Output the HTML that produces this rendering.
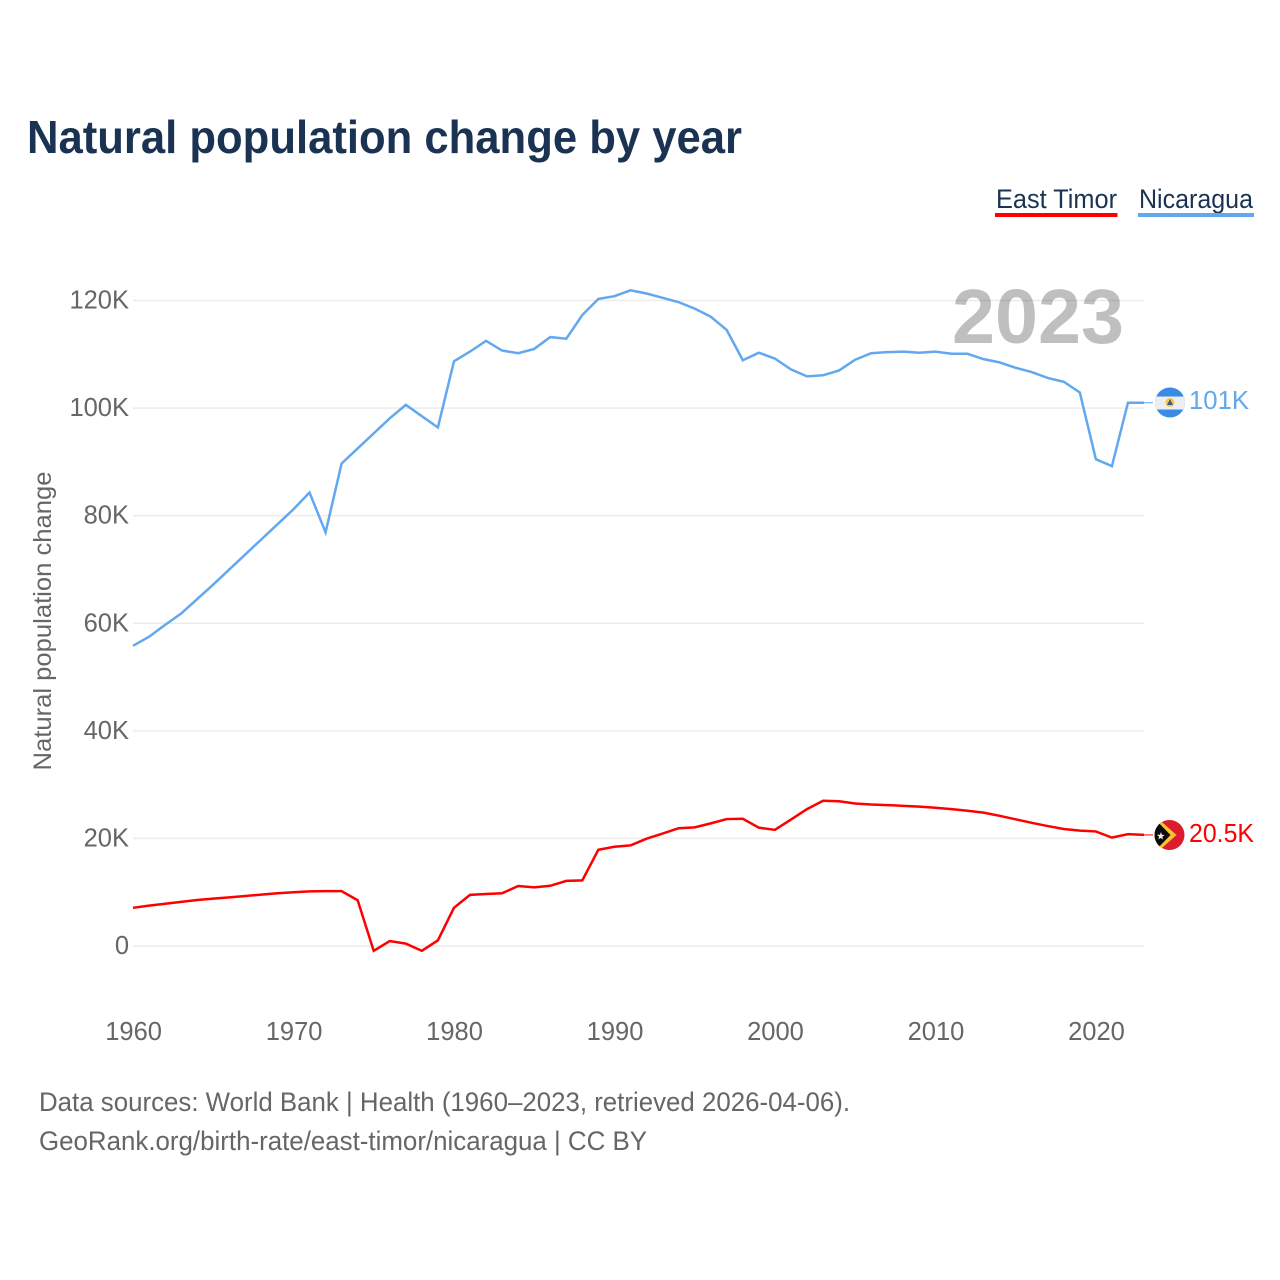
<!DOCTYPE html>
<html lang="en">
<head>
<meta charset="utf-8">
<title>Natural population change by year</title>
<style>
html,body{margin:0;padding:0;background:#fff;}
svg{display:block;}
text{font-family:"Liberation Sans",sans-serif;}
</style>
</head>
<body>
<svg id="chart" xmlns="http://www.w3.org/2000/svg" width="1280" height="1280" viewBox="0 0 1280 1280">
  <rect width="1280" height="1280" fill="#fff"></rect>
  <text x="27" y="153" font-size="46" font-weight="700" fill="#1a3353" textLength="715" lengthAdjust="spacingAndGlyphs">Natural population change by year</text>

  <g>
    <g>
      <text x="996" y="208" font-size="27" fill="#1a3353" textLength="121" lengthAdjust="spacingAndGlyphs">East Timor</text>
      <rect x="995" y="213" width="122.500" height="4" fill="#ff0000"></rect>
    </g>
    <g>
      <text x="1139" y="208" font-size="27" fill="#1a3353" textLength="114" lengthAdjust="spacingAndGlyphs">Nicaragua</text>
      <rect x="1138" y="213" width="116" height="4" fill="#62a8ee"></rect>
    </g>
  </g>

  <g id="grid"></g>
  <g id="yticks"></g>
  <g id="xticks"></g>

  <text transform="translate(51,621) rotate(-90)" text-anchor="middle" font-size="25" fill="#666" textLength="299" lengthAdjust="spacingAndGlyphs">Natural population change</text>

  <text x="952" y="343" font-size="77" font-weight="700" fill="#000" fill-opacity="0.25" textLength="172" lengthAdjust="spacingAndGlyphs">2023</text>

  <g id="series"></g>

  <defs>
    <clipPath id="clip-ni"><circle cx="1170" cy="402.500" r="15"></circle></clipPath>
    <clipPath id="clip-tl"><circle cx="1169.500" cy="835" r="15"></circle></clipPath>
  </defs>

  <g clip-path="url(#clip-ni)">
    <rect x="1155" y="387" width="30" height="31" fill="#3a8ae8"></rect>
    <rect x="1155" y="396.500" width="30" height="13" fill="#eeeeee"></rect>
    <circle cx="1170" cy="402.500" r="4.500" fill="#f7c948"></circle>
    <path d="M1170 399 L1173 405 L1167 405 Z" fill="#3a5a8a"></path>
  </g>
  <g clip-path="url(#clip-tl)">
    <rect x="1154" y="820" width="31" height="30" fill="#dc1c2e"></rect>
    <path d="M1154 815 L1176.500 835 L1154 855 Z" fill="#f7c22d"></path>
    <path d="M1154 818 L1170.500 835 L1154 852 Z" fill="#0b0b0b"></path>
    <path d="M1161 832 L1161.900 834.700 L1164.700 835 L1162.400 836.700 L1163 839.400 L1160.700 838 L1158.400 839.400 L1159.100 836.700 L1156.900 834.800 L1159.900 834.700 Z" fill="#e8e8e8"></path>
  </g>

  <text x="1189" y="409" font-size="26" fill="#62a8ee" textLength="60" lengthAdjust="spacingAndGlyphs">101K</text>
  <text x="1189" y="842" font-size="26" fill="#ff0000" textLength="65" lengthAdjust="spacingAndGlyphs">20.5K</text>

  <text x="39" y="1111" font-size="26.500" fill="#666" textLength="811" lengthAdjust="spacingAndGlyphs">Data sources: World Bank | Health (1960–2023, retrieved 2026-04-06).</text>
  <text x="39" y="1150" font-size="26.500" fill="#666" textLength="608" lengthAdjust="spacingAndGlyphs">GeoRank.org/birth-rate/east-timor/nicaragua | CC BY</text>
</svg>

<script>
const firstYear = 1960;
const lastYear = 2023;
const xTickYears = [1960, 1970, 1980, 1990, 2000, 2010, 2020];
const yTickValues = [0, 20, 40, 60, 80, 100, 120];
const yTickLabels = ['0', '20K', '40K', '60K', '80K', '100K', '120K'];
const nicaraguaValues = [55.8,57.5,59.7,61.8,64.5,67.2,70,72.8,75.6,78.4,81.2,84.3,76.9,89.7,92.5,95.3,98.1,100.6,98.5,96.4,108.7,110.5,112.5,110.7,110.2,111,113.2,112.9,117.3,120.3,120.8,121.9,121.3,120.5,119.7,118.5,117,114.5,108.9,110.3,109.2,107.2,105.9,106.1,107,109,110.2,110.4,110.5,110.3,110.5,110.1,110.1,109.1,108.5,107.5,106.7,105.6,104.9,102.9,90.5,89.2,101,101];
const eastTimorValues = [7.1,7.5,7.85,8.2,8.55,8.8,9.05,9.3,9.55,9.8,10,10.15,10.2,10.2,8.5,-0.9,0.93,0.45,-0.9,1.05,7.1,9.5,9.67,9.8,11.15,10.9,11.2,12.1,12.2,17.9,18.45,18.7,19.95,20.9,21.9,22.05,22.8,23.6,23.65,22,21.6,23.5,25.45,27,26.9,26.5,26.3,26.2,26.05,25.9,25.7,25.45,25.15,24.8,24.2,23.55,22.9,22.3,21.75,21.45,21.3,20.15,20.8,20.65];

const SVG_NS = 'http://www.w3.org/2000/svg';
const plotLeft = 133, plotRight = 1144, zeroY = 946, pxPerUnit = 5.379;
function xScale(year) {
  return plotLeft + (year - firstYear) * (plotRight - plotLeft) / (lastYear - firstYear);
}
function yScale(value) {
  return zeroY - value * pxPerUnit;
}

const gridGroup = document.getElementById('grid');
const yTickGroup = document.getElementById('yticks');
const xTickGroup = document.getElementById('xticks');
const seriesGroup = document.getElementById('series');

yTickValues.forEach(function (value, i) {
  const line = document.createElementNS(SVG_NS, 'line');
  line.setAttribute('x1', plotLeft);
  line.setAttribute('x2', plotRight);
  line.setAttribute('y1', yScale(value));
  line.setAttribute('y2', yScale(value));
  line.setAttribute('stroke', '#ececec');
  line.setAttribute('stroke-width', '1.5');
  
  
  gridGroup.appendChild(line);

  const label = document.createElementNS(SVG_NS, 'text');
  label.setAttribute('x', 129);
  label.setAttribute('y', yScale(value) + 8);
  label.setAttribute('text-anchor', 'end');
  label.setAttribute('font-size', '25.5');
  label.setAttribute('fill', '#666');
  
  
  label.textContent = yTickLabels[i];
  yTickGroup.appendChild(label);
});

xTickYears.forEach(function (year) {
  const label = document.createElementNS(SVG_NS, 'text');
  label.setAttribute('x', xScale(year) + 0.6);
  label.setAttribute('y', 1040);
  label.setAttribute('text-anchor', 'middle');
  label.setAttribute('font-size', '25.5');
  label.setAttribute('fill', '#666');
  
  
  label.textContent = String(year);
  xTickGroup.appendChild(label);
});

function pointsFor(values) {
  return values.map(function (value, i) {
    return xScale(firstYear + i).toFixed(2) + ',' + yScale(value).toFixed(2);
  }).join(' ');
}

const nicaraguaLine = document.createElementNS(SVG_NS, 'polyline');
nicaraguaLine.setAttribute('points', pointsFor(nicaraguaValues));
nicaraguaLine.setAttribute('fill', 'none');
nicaraguaLine.setAttribute('stroke', '#62a8ee');
nicaraguaLine.setAttribute('stroke-width', '2.5');
nicaraguaLine.setAttribute('stroke-linejoin', 'miter');


seriesGroup.appendChild(nicaraguaLine);

const eastTimorLine = document.createElementNS(SVG_NS, 'polyline');
eastTimorLine.setAttribute('points', pointsFor(eastTimorValues));
eastTimorLine.setAttribute('fill', 'none');
eastTimorLine.setAttribute('stroke', '#ff0000');
eastTimorLine.setAttribute('stroke-width', '2.5');
eastTimorLine.setAttribute('stroke-linejoin', 'miter');


seriesGroup.appendChild(eastTimorLine);

const nicaraguaConnector = document.createElementNS(SVG_NS, 'line');
nicaraguaConnector.setAttribute('x1', plotRight);
nicaraguaConnector.setAttribute('x2', 1153);
nicaraguaConnector.setAttribute('y1', yScale(nicaraguaValues[nicaraguaValues.length - 1]));
nicaraguaConnector.setAttribute('y2', yScale(nicaraguaValues[nicaraguaValues.length - 1]));
nicaraguaConnector.setAttribute('stroke', '#62a8ee');
nicaraguaConnector.setAttribute('stroke-width', '1');


seriesGroup.appendChild(nicaraguaConnector);

const eastTimorConnector = document.createElementNS(SVG_NS, 'line');
eastTimorConnector.setAttribute('x1', plotRight);
eastTimorConnector.setAttribute('x2', 1153);
eastTimorConnector.setAttribute('y1', yScale(eastTimorValues[eastTimorValues.length - 1]));
eastTimorConnector.setAttribute('y2', yScale(eastTimorValues[eastTimorValues.length - 1]));
eastTimorConnector.setAttribute('stroke', '#ff0000');
eastTimorConnector.setAttribute('stroke-width', '1');


seriesGroup.appendChild(eastTimorConnector);
</script>
</body>
</html>
